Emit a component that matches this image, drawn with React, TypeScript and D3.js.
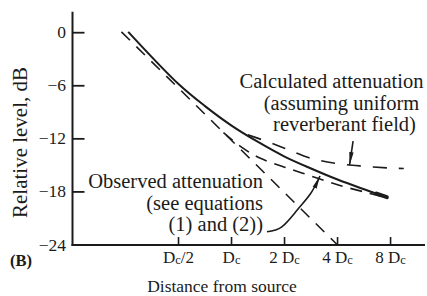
import React from 'react';
import * as d3 from 'd3';

// ---- data (distance in multiples of Dc, level in dB) ----
const levelTicks = [0, -6, -12, -18, -24];
const levelTickLabels = ['0', '−6', '−12', '−18', '−24'];
const distTicks = [0.5, 1, 2, 4, 8];
const distTickMain = ['D', 'D', '2 D', '4 D', '8 D'];
const distTickSuffix = ['/2', '', '', '', ''];

// inverse-square (direct field) line
const directDist = [0.237, 4.0];
const directLevel = [0.1, -24];

// observed attenuation (solid)
const observedDist = [0.259, 0.5, 0.707, 1.0, 1.414, 2.0, 2.828, 4.0, 5.657, 7.62];
const observedLevel = [0.1, -5.8, -8.3, -10.5, -12.35, -14.0, -15.35, -16.6, -17.7, -18.6];

// equations (1) and (2) (dashed, between)
const equationDist = [0.9, 1.15, 1.46, 2.0, 2.83, 4.0, 5.66, 7.4];
const equationLevel = [-11.3, -13.0, -14.2, -15.2, -16.2, -17.2, -18.0, -18.6];

// calculated attenuation, uniform reverberant field (dashed, flattening)
const calcDist = [1.149, 1.613, 2.0, 2.828, 4.0, 5.657, 8.0, 9.51];
const calcLevel = [-11.3, -12.35, -13.05, -14.2, -14.8, -15.1, -15.3, -15.35];

// annotation arrows
const calcArrowDist = [4.9, 4.68];
const calcArrowLevel = [-12.25, -14.95];
const obsArrowDist = [1.59, 1.93, 2.36, 2.82, 3.18];
const obsArrowLevel = [-22.5, -21.95, -20.05, -18.15, -16.2];

const calcLabel = ['Calculated attenuation', '(assuming uniform', 'reverberant field)'];
const obsLabel = ['Observed attenuation', '(see equations', '(1) and (2))'];

const W = 427;
const H = 296;
const INK = '#1b1b1b';
const FONT = '"Liberation Serif", "Times New Roman", serif';

export default function App() {
  const x = d3.scaleLog().base(2).domain([0.125, 12.55]).range([72.5, 425]);
  const y = d3.scaleLinear().domain([0, -24]).range([32.7, 245]);

  const pts = (ds: number[], ls: number[]) => ds.map((d, i) => [x(d), y(ls[i])] as [number, number]);
  const curve = d3.line().curve(d3.curveCatmullRom.alpha(0.5));
  const straight = d3.line();
  const smooth = d3.line().curve(d3.curveNatural);

  const observed = pts(observedDist, observedLevel);
  const n = observed.length;
  const blob: [number, number][] = [
    [observed[n - 2][0] + (observed[n - 1][0] - observed[n - 2][0]) * 0.55,
     observed[n - 2][1] + (observed[n - 1][1] - observed[n - 2][1]) * 0.55],
    observed[n - 1],
  ];
  const x0 = x(0.125);
  const yBase = y(-24);

  return (
    <svg width={W} height={H} style={{ position: 'absolute', left: 0, top: 0, background: '#fff' }}
      fontFamily={FONT}>
      <defs>
        <marker id="ah" markerUnits="userSpaceOnUse" markerWidth={15} markerHeight={7}
          refX={13} refY={3} orient="auto" viewBox="0 0 15 7">
          <path d="M0,0.8 L13,3 L0,5.2 Z" fill={INK} />
        </marker>
      </defs>
      <rect x={0} y={0} width={W} height={H} fill="#fff" />

      {/* axes */}
      <line x1={x0} x2={x0} y1={11.7} y2={yBase + 1} stroke={INK} strokeWidth={2} />
      <line x1={x0 - 1} x2={425} y1={yBase} y2={yBase} stroke={INK} strokeWidth={2} />
      {levelTicks.slice(0, 4).map((t) => (
        <line key={'yt' + t} x1={x0} x2={x0 + 12} y1={y(t)} y2={y(t)} stroke={INK} strokeWidth={1.8} />
      ))}
      {levelTicks.map((t, i) => (
        <text key={'yl' + t} x={66} y={y(t) + 5.5} textAnchor="end" fontSize={17.5} fill={INK}>
          {levelTickLabels[i]}
        </text>
      ))}
      {distTicks.map((t) => (
        <line key={'xt' + t} x1={x(t)} x2={x(t)} y1={yBase} y2={yBase - 8} stroke={INK} strokeWidth={1.6} />
      ))}
      {distTicks.map((t, i) => (
        <text key={'xl' + t} x={x(t)} y={263} textAnchor="middle" fontSize={17} fill={INK}>
          {distTickMain[i]}
          <tspan fontSize={12.5} dy={1}>c</tspan>
          <tspan dy={-1}>{distTickSuffix[i]}</tspan>
        </text>
      ))}

      <text x={222} y={292} textAnchor="middle" fontSize={17.5} fill={INK}>Distance from source</text>
      <text transform="translate(26.5,142.5) rotate(-90)" textAnchor="middle" fontSize={21} fill={INK}>
        Relative level, dB
      </text>
      <text x={10} y={266} fontSize={16.5} fontWeight="bold" fill={INK}>(B)</text>

      {/* curves */}
      <path d={straight(pts(directDist, directLevel)) || ''} fill="none" stroke={INK} strokeWidth={1.6}
        strokeDasharray="12 9" />
      <path d={curve(pts(equationDist, equationLevel)) || ''} fill="none" stroke={INK} strokeWidth={1.6}
        strokeDasharray="12 8" />
      <path d={curve(pts(calcDist, calcLevel)) || ''} fill="none" stroke={INK} strokeWidth={1.6}
        strokeDasharray="14 12" strokeDashoffset={-6} />
      <path d={curve(observed) || ''} fill="none" stroke={INK} strokeWidth={2} />
      <path d={straight(blob) || ''} fill="none" stroke={INK} strokeWidth={4} strokeLinecap="round" />

      {/* annotation arrows */}
      <path d={straight(pts(calcArrowDist, calcArrowLevel)) || ''} fill="none" stroke={INK} strokeWidth={1.6}
        markerEnd="url(#ah)" />
      <path d={smooth(pts(obsArrowDist, obsArrowLevel)) || ''} fill="none" stroke={INK} strokeWidth={1.6}
        markerEnd="url(#ah)" />

      {/* annotation labels */}
      {calcLabel.map((s, i) => (
        <text key={'c' + i} x={[331.5, 341.5, 344.5][i]} y={88 + i * 21.5} textAnchor="middle"
          fontSize={20.5} fill={INK}>{s}</text>
      ))}
      {obsLabel.map((s, i) => (
        <text key={'o' + i} x={263} y={188 + i * 21.5} textAnchor="end" fontSize={20.5} fill={INK}>{s}</text>
      ))}
    </svg>
  );
}
